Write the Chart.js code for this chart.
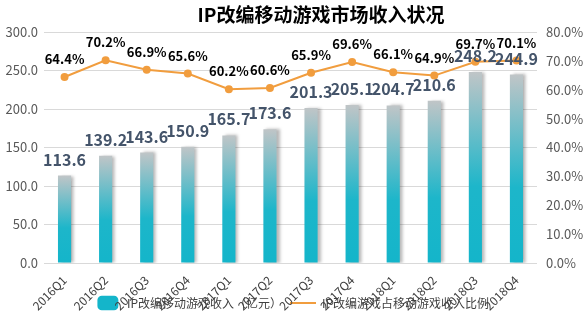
<!DOCTYPE html>
<html>
<head>
<meta charset="utf-8">
<script src="https://cdn.jsdelivr.net/npm/chart.js@4/dist/chart.umd.min.js"></script>
<style>
  html, body { margin: 0; padding: 0; background: #fff; }
  #wrap { width: 584px; height: 323px; position: relative; }
</style>
</head>
<body>
<div id="wrap"><canvas id="myChart"></canvas></div>
<script>
// chart data
var quarters = ["2016Q1","2016Q2","2016Q3","2016Q4","2017Q1","2017Q2","2017Q3","2017Q4","2018Q1","2018Q2","2018Q3","2018Q4"];
var revenue = [113.6,139.2,143.6,150.9,165.7,173.6,201.3,205.1,204.7,210.6,248.2,244.9];
var share = [64.4,70.2,66.9,65.6,60.2,60.6,65.9,69.6,66.1,64.9,69.7,70.1];
var titleText = "IP改编移动游戏市场收入状况";
var revenueLabel = "IP改编移动游戏收入（亿元）";
var shareLabel = "IP改编游戏占移动游戏收入比例";

var font = "'Noto Sans CJK SC', 'Noto Sans', sans-serif";
var teal = "#14b5ca";
var orange = "#f19d3e";

// gradient per bar, grey at top going to teal
function barGradient(context) {
  var chart = context.chart;
  if (!chart.chartArea || context.type !== "data") return teal;
  var y = chart.scales.y;
  var top = y.getPixelForValue(context.raw);
  var bottom = y.getPixelForValue(0);
  var g = chart.ctx.createLinearGradient(0, top, 0, bottom);
  g.addColorStop(0, "#c0c5c7");
  g.addColorStop(0.6, "#1db6ca");
  g.addColorStop(1, teal);
  return g;
}

// shadow on the bars + value labels + title
var extras = {
  id: "extras",
  beforeDatasetDraw: function(chart, args) {
    if (args.index === 0) {
      var ctx = chart.ctx;
      ctx.save();
      ctx.shadowColor = "rgba(0,0,0,0.28)";
      ctx.shadowOffsetX = 3;
      ctx.shadowOffsetY = 0;
      ctx.shadowBlur = 3;
    }
  },
  afterDatasetDraw: function(chart, args) {
    if (args.index === 0) chart.ctx.restore();
  },
  afterDatasetsDraw: function(chart) {
    var ctx = chart.ctx;
    ctx.save();
    ctx.textAlign = "center";
    ctx.textBaseline = "middle";
    ctx.font = "bold 16px " + font;
    ctx.fillStyle = "#44546a";
    chart.getDatasetMeta(0).data.forEach(function(bar, i) {
      ctx.fillText(revenue[i].toFixed(1), bar.x, bar.y - 16);
    });
    ctx.font = "bold 13px " + font;
    ctx.fillStyle = "#000";
    chart.getDatasetMeta(1).data.forEach(function(pt, i) {
      ctx.fillText(share[i].toFixed(1) + "%", pt.x, pt.y - 18);
    });
    ctx.font = "bold 19px " + font;
    ctx.fillText(titleText, 321, 15);
    ctx.restore();
  }
};

var ctx = document.getElementById("myChart").getContext("2d");
var mixedChart = new Chart(ctx, {
  type: "bar",
  data: {
    labels: quarters,
    datasets: [{
      type: "bar",
      label: revenueLabel,
      data: revenue,
      backgroundColor: barGradient,
      categoryPercentage: 0.8,
      barPercentage: 0.4,
      yAxisID: "y",
      order: 2
    }, {
      type: "line",
      label: shareLabel,
      data: share,
      borderColor: orange,
      backgroundColor: orange,
      borderWidth: 2,
      pointRadius: 4,
      pointBackgroundColor: orange,
      pointBorderWidth: 0,
      fill: false,
      tension: 0,
      yAxisID: "y1",
      order: 1
    }]
  },
  options: {
    responsive: true,
    maintainAspectRatio: false,
    animation: false,
    layout: { padding: { top: 32, left: 0, right: 0, bottom: 4 } },
    plugins: {
      title: { display: false },
      tooltip: { enabled: false },
      legend: {
        position: "bottom",
        labels: {
          font: { family: font, size: 12 },
          color: "#404040",
          usePointStyle: true,
          pointStyleWidth: 26,
          padding: 8,
          generateLabels: function(chart) {
            var items = Chart.defaults.plugins.legend.labels.generateLabels(chart);
            items.sort(function(a, b) { return a.datasetIndex - b.datasetIndex; });
            items[0].pointStyle = "rectRounded";
            items[0].fillStyle = teal;
            items[0].strokeStyle = teal;
            items[1].pointStyle = "line";
            items[1].strokeStyle = orange;
            items[1].lineWidth = 2;
            return items;
          }
        }
      }
    },
    scales: {
      x: {
        grid: { display: false },
        border: { display: false },
        ticks: {
          font: { family: font, size: 12 },
          color: "#404040",
          maxRotation: 45,
          minRotation: 45,
          padding: 2
        },
        afterFit: function(scale) {
          // let the rotated labels run under the legend, like the original
          scale.height = 323 - 263 - 4 - scale.chart.legend.height;
          scale._computeLabelArea = function() {};
        }
      },
      y: {
        position: "left",
        min: 0,
        max: 300,
        grid: { color: "#d9d9d9", drawTicks: false },
        border: { display: false },
        ticks: {
          stepSize: 50,
          padding: 6,
          font: { family: font, size: 13 },
          color: "#595959",
          callback: function(v) { return v.toFixed(1); }
        },
        afterFit: function(scale) { scale.width = 44; }
      },
      y1: {
        position: "right",
        min: 0,
        max: 80,
        grid: { display: false, drawTicks: false },
        border: { display: false },
        ticks: {
          stepSize: 10,
          padding: 9,
          font: { family: font, size: 13 },
          color: "#595959",
          callback: function(v) { return v.toFixed(1) + "%"; }
        },
        afterFit: function(scale) { scale.width = 47; }
      }
    }
  },
  plugins: [extras]
});
</script>
</body>
</html>
